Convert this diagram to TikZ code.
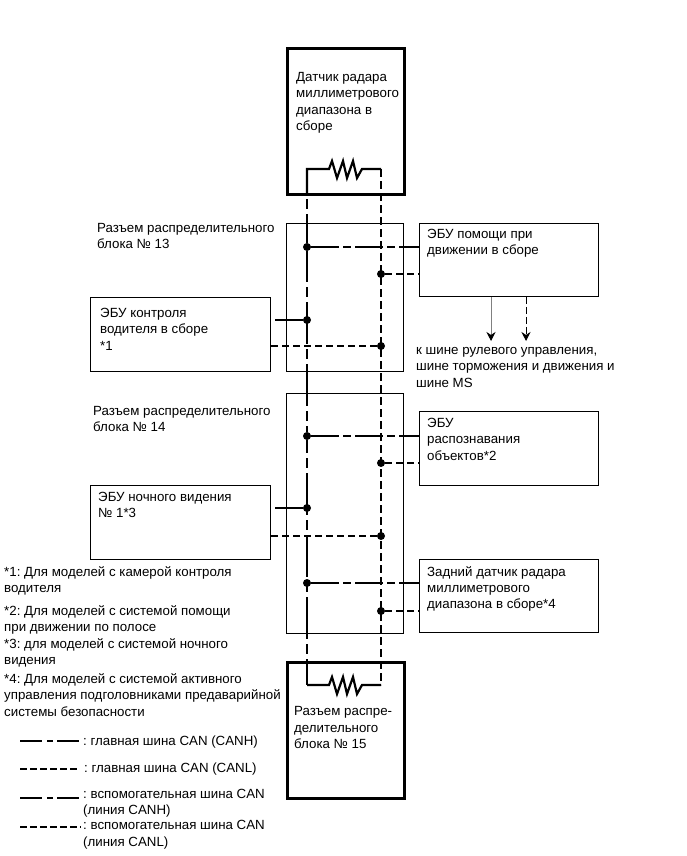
\documentclass[tikz,border=0pt]{standalone}
\usepackage{fontspec}
\setmainfont{Liberation Sans}
\usetikzlibrary{arrows.meta, positioning}
\frenchspacing

\begin{document}
\begin{tikzpicture}[
            x=1pt,
            y=-1pt,
            font=\fontsize{13.3}{16.4}\selectfont,
            block/.style={
                rectangle,
                draw,
                line width=0.9pt,
                anchor=north west,
                inner sep=0pt
            },
            endblock/.style={
                block,
                line width=2.6pt
            },
            caption/.style={
                anchor=north west,
                inner sep=0pt,
                align=left
            },
            joint/.style={
                circle,
                fill=black,
                inner sep=0pt,
                minimum size=8pt
            },
            mainh/.style={
                line width=2.8pt,
                dash pattern=on 42pt off 5pt on 10pt off 5pt
            },
            mainl/.style={
                line width=2.8pt,
                dash pattern=on 8pt off 4pt
            },
            subh/.style={
                line width=1.2pt,
                dash pattern=on 28pt off 4pt on 8pt off 4pt
            },
            subl/.style={
                line width=1.1pt,
                dash pattern=on 7pt off 4pt
            },
            wire/.style={
                line width=2.2pt,
                line join=miter
            },
            arrow/.style={
                -{Stealth[black, length=9pt, width=9pt]},
                line width=0.8pt
            }
        ]
        \useasboundingbox (0,0) rectangle (686,856);

        % Blocks on the bus
        \node (sensor) [endblock, minimum width=117pt, minimum height=146pt] at (286,47) {};
        \node (joint13) [block, minimum width=117pt, minimum height=148pt] at (285.5,222.5) {};
        \node (joint14) [block, minimum width=117pt, minimum height=240pt] at (285.5,393) {};
        \node (joint15) [endblock, minimum width=117pt, minimum height=136pt] at (286,661) {};

        % ECU on both sides
        \node (assist) [block, minimum width=179pt, minimum height=73pt] at (419,223) {};
        \node (driver) [block, minimum width=180pt, minimum height=74pt] at (90,296.5) {};
        \node (objects) [block, minimum width=179pt, minimum height=74pt] at (419,411) {};
        \node (night) [block, minimum width=180pt, minimum height=74pt] at (90,485) {};
        \node (rear) [block, minimum width=179pt, minimum height=73pt] at (419,559) {};

        % Texts of the blocks
        \node (sensortext) [caption] at (296,72) {Датчик радара\\миллиметрового\\диапазона в\\сборе};
        \node (assisttext) [caption] at (427,229) {ЭБУ помощи при\\движении в сборе};
        \node (drivertext) [caption] at (100,308) {ЭБУ контроля\\водителя в сборе\\*1};
        \node (objectstext) [caption] at (427,418) {ЭБУ\\распознавания\\объектов*2};
        \node (nighttext) [caption] at (98,492) {ЭБУ ночного видения\\№ 1*3};
        \node (reartext) [caption] at (427,566) {Задний датчик радара\\миллиметрового\\диапазона в сборе*4};
        \node (joint15text) [caption] at (294,706.5) {Разъем распре-\\делительного\\блока № 15};
        \node (joint13text) [caption] at (97,223) {Разъем распределительного\\блока № 13};
        \node (joint14text) [caption] at (93,406) {Разъем распределительного\\блока № 14};
        \node (bustext) [caption] at (416,347) {к шине рулевого управления,\\шине торможения и движения и\\шине MS};

        % Notes
        \node (note1) [caption] at (4,566.5) {*1: Для моделей с камерой контроля\\водителя};
        \node (note2) [caption] at (4,605) {*2: Для моделей с системой помощи\\при движении по полосе};
        \node (note3) [caption] at (4,638) {*3: для моделей с системой ночного\\видения};
        \node (note4) [caption] at (4,673.5) {*4: Для моделей с системой активного\\управления подголовниками предаварийной\\системы безопасности};

        % Bus ends
        \coordinate (h1) at (307,169);
        \coordinate (l1) at (381,169);
        \coordinate (h2) at (307,685);
        \coordinate (l2) at (381,685);

        % Joints
        \node (a1) [joint] at (307,247) {};
        \node (a2) [joint] at (381,274) {};
        \node (d1) [joint] at (307,320) {};
        \node (d2) [joint] at (381,346) {};
        \node (o1) [joint] at (307,436) {};
        \node (o2) [joint] at (381,463) {};
        \node (n1) [joint] at (307,508) {};
        \node (n2) [joint] at (381,536) {};
        \node (r1) [joint] at (307,583) {};
        \node (r2) [joint] at (381,611) {};

        % Main bus with the two resistors
        \draw[mainh, dash phase=17pt] (h1) -- (a1);
        \draw[mainh, dash phase=11pt] (a1) -- (o1);
        \draw[mainh, dash phase=29pt] (o1) -- (h2);
        \draw[mainl] (l1) -- (l2);
        \draw[wire] (h1 |- sensor.south) -- (h1) -- ++(22,0) -- ++(3,-8) -- ++(5,17) -- ++(6,-17) -- ++(4,17) -- ++(6,-17) -- ++(4,17) -- ++(5,-9) -- (l1);
        \draw[wire] (h2) -- ++(22,0) -- ++(3,-8) -- ++(5,17) -- ++(6,-17) -- ++(4,17) -- ++(6,-17) -- ++(4,17) -- ++(5,-9) -- (l2);

        % Branches to the ECU
        \draw[subh] (a1) -- (assist.west |- a1);
        \draw[subl] (a2) -- (assist.west |- a2);
        \draw[subh] (d1) -- (driver.east |- d1);
        \draw[subl] (d2) -- (driver.east |- d2);
        \draw[subh] (o1) -- (objects.west |- o1);
        \draw[subl] (o2) -- (objects.west |- o2);
        \draw[subh] (n1) -- (night.east |- n1);
        \draw[subl] (n2) -- (night.east |- n2);
        \draw[subh] (r1) -- (rear.west |- r1);
        \draw[subl] (r2) -- (rear.west |- r2);

        % Arrows to the other buses
        \coordinate (out1) at (491,341);
        \coordinate (out2) at (526,341);
        \draw[arrow, gray] (assist.south -| out1) -- (out1);
        \draw[arrow, dash pattern=on 7pt off 3pt] (assist.south -| out2) -- (out2);

        % Key
        \coordinate (k1a) at (20,741);
        \coordinate (k1b) at (79,741);
        \coordinate (k2a) at (20,769);
        \coordinate (k2b) at (80,769);
        \coordinate (k3a) at (20,798);
        \coordinate (k3b) at (79,798);
        \coordinate (k4a) at (20,827);
        \coordinate (k4b) at (81,827);
        \draw[line width=2.8pt, dash pattern=on 22pt off 5pt on 6pt off 4pt] (k1a) -- (k1b);
        \draw[line width=2.8pt, dash pattern=on 6.5pt off 3.5pt] (k2a) -- (k2b);
        \draw[line width=1.1pt, dash pattern=on 22pt off 5pt on 6pt off 4pt] (k3a) -- (k3b);
        \draw[line width=1.1pt, dash pattern=on 6.5pt off 3.5pt] (k4a) -- (k4b);
        \node (key1) [caption] at (83,736) {: главная шина CAN (CANH)};
        \node (key2) [caption] at (84,763) {: главная шина CAN (CANL)};
        \node (key3) [caption] at (83,789) {: вспомогательная шина CAN\\(линия CANH)};
        \node (key4) [caption] at (83,820.5) {: вспомогательная шина CAN\\(линия CANL)};

        \end{tikzpicture}
\end{document}
